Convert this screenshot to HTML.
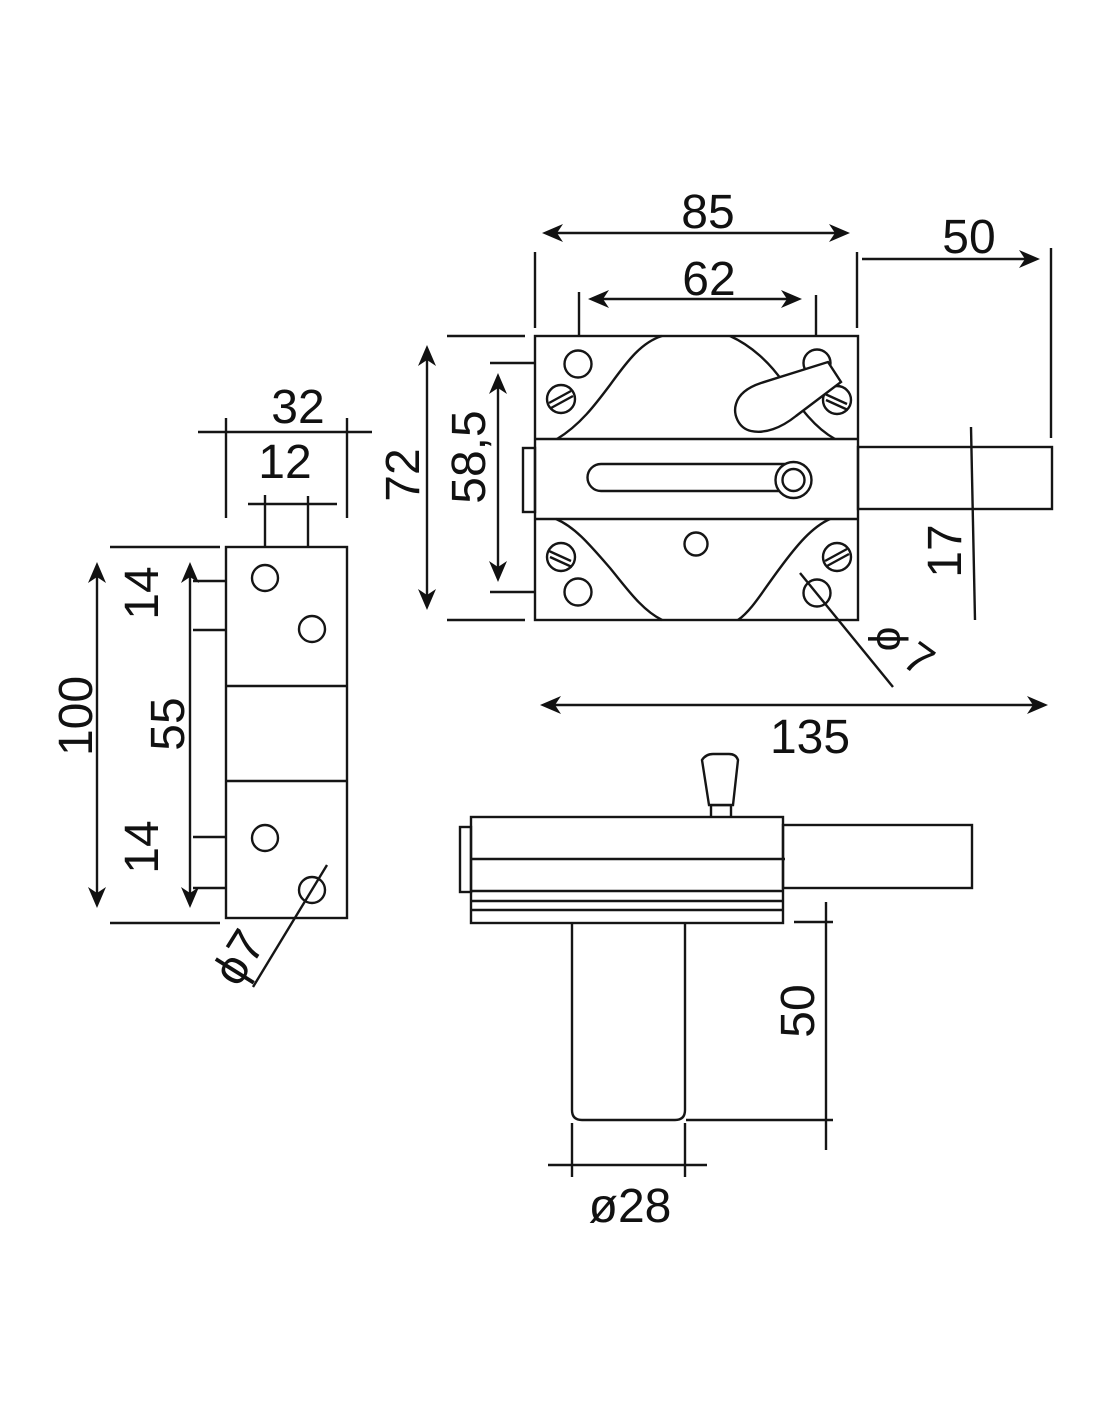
<!DOCTYPE html>
<html>
<head>
<meta charset="utf-8">
<style>
html,body{margin:0;padding:0;background:#fff;}
svg{display:block;}
text{font-family:"Liberation Sans","DejaVu Sans",sans-serif;fill:#111;}
</style>
</head>
<body>
<svg width="1100" height="1422" viewBox="0 0 1100 1422" xmlns="http://www.w3.org/2000/svg">
<rect width="1100" height="1422" fill="#fff"/>
<g stroke="#151515" stroke-width="2.4" fill="none" stroke-linecap="butt">

<!-- ===== FRONT VIEW ===== -->
<line x1="535" y1="252" x2="535" y2="328"/>
<line x1="857" y1="252" x2="857" y2="328"/>
<line x1="579" y1="292" x2="579" y2="336"/>
<line x1="816" y1="295" x2="816" y2="336"/>
<line x1="1051" y1="248" x2="1051" y2="438"/>
<line x1="447" y1="336" x2="525" y2="336"/>
<line x1="447" y1="620" x2="525" y2="620"/>
<line x1="490" y1="363" x2="535" y2="363"/>
<line x1="490" y1="592" x2="535" y2="592"/>
<line x1="971" y1="427" x2="975" y2="620"/>
<line x1="550" y1="233" x2="842" y2="233"/>
<line x1="596" y1="299" x2="794" y2="299"/>
<line x1="862" y1="259" x2="1032" y2="259"/>
<line x1="548" y1="705" x2="1040" y2="705"/>
<line x1="427" y1="353" x2="427" y2="602"/>
<line x1="498" y1="381" x2="498" y2="574"/>

<rect x="535" y="336" width="323" height="284"/>
<line x1="535" y1="439" x2="858" y2="439"/>
<line x1="535" y1="519" x2="858" y2="519"/>
<rect x="523" y="448" width="12" height="64"/>
<rect x="858" y="447" width="194" height="62"/>

<path d="M557,439 C580,425 595,405 610,385 C628,360 642,342 662,336"/>
<path d="M730,336 C750,345 770,362 785,385 C800,408 815,428 835,439"/>
<path d="M556,519 C575,527 590,545 610,568 C628,590 642,610 662,620"/>
<path d="M830,519 C812,527 797,545 780,568 C762,592 752,610 738,620"/>

<circle cx="578" cy="364" r="13.5"/>
<circle cx="817" cy="363" r="13.5"/>
<circle cx="578" cy="592" r="13.5"/>
<circle cx="817" cy="593" r="13.5"/>
<circle cx="696" cy="544" r="11.5"/>

<circle cx="561" cy="399" r="14"/>
<line x1="549" y1="403" x2="571" y2="391"/>
<line x1="551" y1="408" x2="573" y2="396"/>
<circle cx="561" cy="557" r="14"/>
<line x1="549" y1="551" x2="571" y2="561"/>
<line x1="550" y1="557" x2="572" y2="567"/>
<circle cx="837" cy="557" r="14"/>
<line x1="825" y1="561" x2="847" y2="549"/>
<line x1="827" y1="566" x2="849" y2="554"/>
<circle cx="837" cy="400" r="14"/>
<line x1="825" y1="394" x2="847" y2="404"/>
<line x1="826" y1="400" x2="848" y2="410"/>

<path d="M828,362 L841,382 L796,416 C781,428 765,434 751,431 C738,428 733,414 736,404 C739,393 749,387 761,383 Z" fill="#fff"/>

<path d="M793,464 L601,464 A13.5,13.5 0 0 0 601,491 L793,491" fill="#fff"/>
<circle cx="793.5" cy="480" r="18" fill="#fff"/>
<circle cx="793.5" cy="480" r="11"/>

<line x1="800" y1="573" x2="893" y2="687"/>

<!-- ===== LEFT SIDE VIEW ===== -->
<line x1="198" y1="432" x2="372" y2="432"/>
<line x1="226" y1="418" x2="226" y2="518"/>
<line x1="347" y1="418" x2="347" y2="518"/>
<line x1="248" y1="504" x2="337" y2="504"/>
<line x1="265" y1="495" x2="265" y2="547"/>
<line x1="308" y1="496" x2="308" y2="547"/>
<rect x="226" y="547" width="121" height="371"/>
<line x1="226" y1="686" x2="347" y2="686"/>
<line x1="226" y1="781" x2="347" y2="781"/>
<circle cx="265" cy="578" r="13"/>
<circle cx="312" cy="629" r="13"/>
<circle cx="265" cy="838" r="13"/>
<circle cx="312" cy="890" r="13"/>
<line x1="110" y1="547" x2="220" y2="547"/>
<line x1="110" y1="923" x2="220" y2="923"/>
<line x1="193" y1="581" x2="226" y2="581"/>
<line x1="193" y1="630" x2="226" y2="630"/>
<line x1="193" y1="837" x2="226" y2="837"/>
<line x1="193" y1="888" x2="226" y2="888"/>
<line x1="97" y1="570" x2="97" y2="900"/>
<line x1="190" y1="570" x2="190" y2="900"/>
<line x1="327" y1="865" x2="253" y2="987"/>

<!-- ===== BOTTOM VIEW ===== -->
<rect x="460" y="827" width="11" height="65"/>
<rect x="471" y="817" width="312" height="106"/>
<line x1="471" y1="859" x2="785" y2="859"/>
<line x1="471" y1="891" x2="783" y2="891"/>
<line x1="471" y1="901" x2="783" y2="901"/>
<line x1="471" y1="910" x2="783" y2="910"/>
<rect x="783" y="825" width="189" height="63"/>
<path d="M572,923 L572,1110 Q572,1120 582,1120 L675,1120 Q685,1120 685,1110 L685,923"/>
<path d="M711,817 L711,805 L731,805 L731,817"/>
<path d="M709,805 L702,760 Q706,754 713,754 L729,754 Q736,754 738,760 L733,805 Z" fill="#fff"/>
<line x1="826" y1="902" x2="826" y2="1150"/>
<line x1="794" y1="922" x2="833" y2="922"/>
<line x1="686" y1="1120" x2="833" y2="1120"/>
<line x1="548" y1="1165" x2="707" y2="1165"/>
<line x1="572" y1="1123" x2="572" y2="1177"/>
<line x1="685" y1="1123" x2="685" y2="1177"/>
</g>

<g fill="#111" stroke="none">
<polygon points="542,233 563,224 557,233 563,242"/>
<polygon points="850,233 829,224 835,233 829,242"/>
<polygon points="588,299 609,290 603,299 609,308"/>
<polygon points="802,299 781,290 787,299 781,308"/>
<polygon points="1040,259 1019,250 1025,259 1019,268"/>
<polygon points="540,705 561,696 555,705 561,714"/>
<polygon points="1048,705 1027,696 1033,705 1027,714"/>
<polygon points="427,345 418,366 427,360 436,366"/>
<polygon points="427,610 418,589 427,595 436,589"/>
<polygon points="498,373 489,394 498,388 507,394"/>
<polygon points="498,582 489,561 498,567 507,561"/>
<polygon points="97,562 88,583 97,577 106,583"/>
<polygon points="97,908 88,887 97,893 106,887"/>
<polygon points="190,562 181,583 190,577 199,583"/>
<polygon points="190,908 181,887 190,893 199,887"/>
</g>

<g font-size="48" text-anchor="middle">
<text x="708" y="228">85</text>
<text x="709" y="295">62</text>
<text x="969" y="253">50</text>
<text x="810" y="753">135</text>
<text x="298" y="423">32</text>
<text x="285" y="478">12</text>
<text x="630" y="1222">ø28</text>
<text transform="translate(402,475) rotate(-90)" x="0" y="17">72</text>
<text transform="translate(468,457) rotate(-90)" x="0" y="17">58,5</text>
<text transform="translate(944,551) rotate(-90)" x="0" y="17">17</text>
<text transform="translate(75,716) rotate(-90)" x="0" y="17">100</text>
<text transform="translate(167,724) rotate(-90)" x="0" y="17">55</text>
<text transform="translate(141,593) rotate(-90)" x="0" y="17">14</text>
<text transform="translate(141,847) rotate(-90)" x="0" y="17">14</text>
<text transform="translate(797,1011) rotate(-90)" x="0" y="17">50</text>
<text transform="translate(238,957) rotate(-58)" x="0" y="17">ϕ7</text>
</g>
<g font-size="44" text-anchor="middle">
<text transform="translate(892,639) rotate(90)" x="0" y="15">ϕ</text>
<text transform="translate(919,659) rotate(36)" x="0" y="15">7</text>
</g>
</svg>
</body>
</html>
